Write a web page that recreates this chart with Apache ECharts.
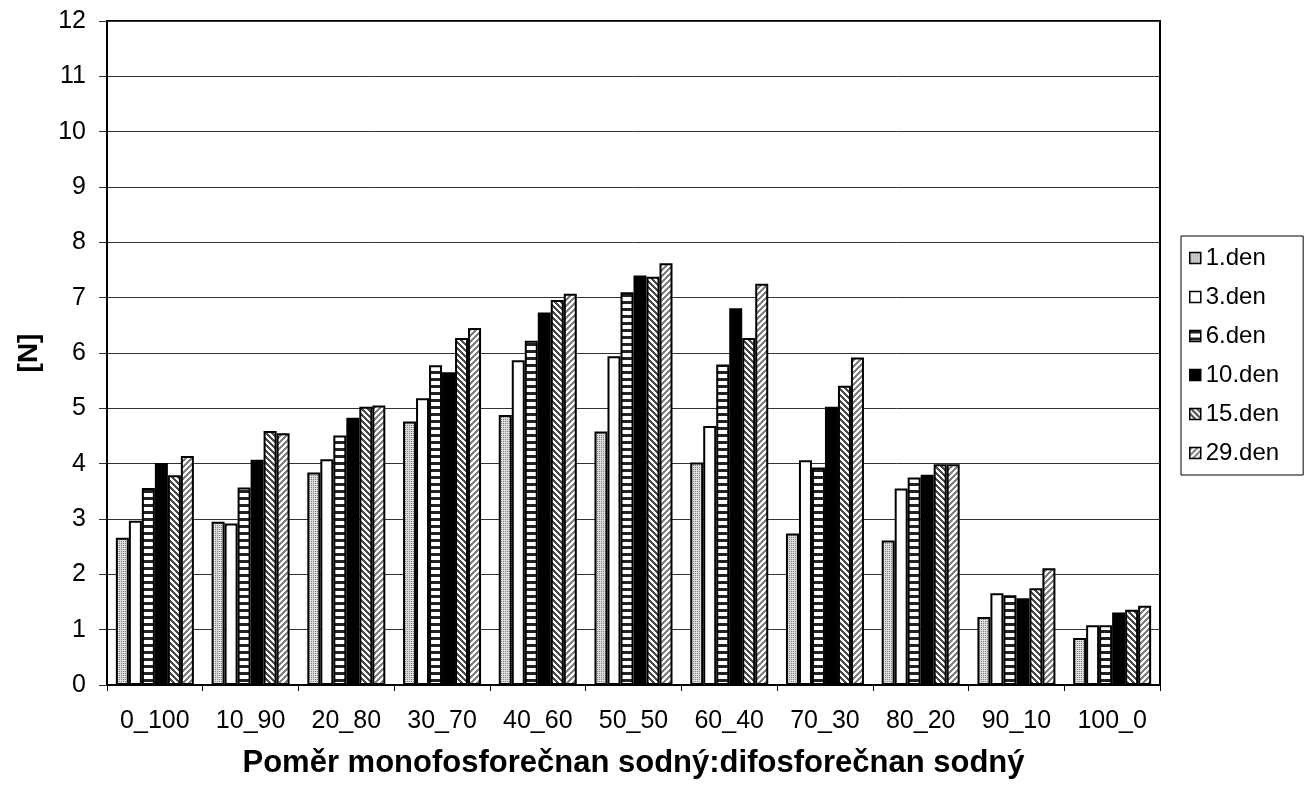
<!DOCTYPE html>
<html>
<head>
<meta charset="utf-8">
<script src="https://cdn.jsdelivr.net/npm/echarts@6/dist/echarts.min.js"></script>
<style>
html,body{margin:0;padding:0;background:#fff;}
#chart{width:1308px;height:789px;}
</style>
</head>
<body>
<div id="chart"></div>
<script>
// ---- data ----
const categories = ['0_100','10_90','20_80','30_70','40_60','50_50','60_40','70_30','80_20','90_10','100_0'];
const seriesNames = ['1.den','3.den','6.den','10.den','15.den','29.den'];
const den1  = [2.66, 2.95, 3.84, 4.76, 4.88, 4.58, 4.02, 2.74, 2.61, 1.23, 0.85];
const den3  = [2.97, 2.92, 4.08, 5.18, 5.87, 5.94, 4.68, 4.06, 3.55, 1.66, 1.08];
const den6  = [3.56, 3.57, 4.51, 5.78, 6.22, 7.10, 5.79, 3.93, 3.75, 1.62, 1.08];
const den10 = [4.01, 4.07, 4.83, 5.65, 6.73, 7.40, 6.81, 5.03, 3.80, 1.57, 1.31];
const den15 = [3.79, 4.59, 5.03, 6.27, 6.96, 7.38, 6.27, 5.41, 3.99, 1.75, 1.36];
const den29 = [4.14, 4.55, 5.05, 6.45, 7.07, 7.62, 7.25, 5.92, 3.99, 2.11, 1.43];
const yTicks = [0,1,2,3,4,5,6,7,8,9,10,11,12];
const xTitle = 'Poměr monofosforečnan sodný:difosforečnan sodný';
const yTitle = '[N]';

// ---- patterns ----
function tile(n, fn) {
  const c = document.createElement('canvas');
  c.width = n; c.height = n;
  const ctx = c.getContext('2d');
  const img = ctx.createImageData(n, n);
  for (let y = 0; y < n; y++) for (let x = 0; x < n; x++) {
    const v = fn(x, y);
    const i = (y * n + x) * 4;
    img.data[i] = v; img.data[i+1] = v; img.data[i+2] = v; img.data[i+3] = 255;
  }
  ctx.putImageData(img, 0, 0);
  return {image: c, repeat: 'repeat'};
}
const patDots = tile(4, (x, y) => ((x % 2 === 1 && y % 2 === 1) ? 0x80 : 0xdc));
const patHoriz = tile(7, (x, y) => (y < 3 ? 0x22 : 0xff));
const patBack = tile(6, (x, y) => (((x - y) % 6 + 6) % 6 < 3 ? 0x4a : 0xff));
const patFwd = tile(6, (x, y) => ((x + y) % 6 < 3 ? 0x80 : 0xff));
const fills = [patDots, '#ffffff', patHoriz, '#000000', patBack, patFwd];
const values = [den1, den3, den6, den10, den15, den29];

const FONT = 'Liberation Sans, Arial, sans-serif';
const chart = echarts.init(document.getElementById('chart'), null, {renderer: 'canvas'});
chart.setOption({
  animation: false,
  backgroundColor: '#fff',
  grid: {left: 107, right: 148, top: 21, bottom: 104, show: true, borderColor: '#000', borderWidth: 2},
  legend: {
    orient: 'vertical', left: 1181, top: 236,
    padding: [10, 24, 10, 8],
    borderColor: '#000', borderWidth: 1,
    itemWidth: 11, itemHeight: 11, itemGap: 15,
    icon: 'rect',
    itemStyle: {borderColor: '#000', borderWidth: 1.5},
    textStyle: {fontFamily: FONT, fontSize: 24, color: '#000', lineHeight: 24},
    data: seriesNames
  },
  xAxis: {
    type: 'category', data: categories,
    name: xTitle, nameLocation: 'middle', nameGap: 63,
    nameTextStyle: {fontFamily: FONT, fontSize: 31, fontWeight: 'bold', color: '#000'},
    axisLine: {lineStyle: {color: '#000', width: 2}},
    axisTick: {show: true, alignWithLabel: false, length: 6, lineStyle: {color: '#000', width: 1}},
    axisLabel: {fontFamily: FONT, fontSize: 25, color: '#000', margin: 24}
  },
  yAxis: {
    type: 'value', min: yTicks[0], max: yTicks[yTicks.length - 1], interval: 1,
    name: yTitle, nameLocation: 'middle', nameGap: 64, nameRotate: 90,
    nameTextStyle: {fontFamily: FONT, fontSize: 28, fontWeight: 'bold', color: '#000'},
    axisLine: {show: true, lineStyle: {color: '#000', width: 2}},
    axisTick: {show: true, length: 8, lineStyle: {color: '#333', width: 1}},
    axisLabel: {fontFamily: FONT, fontSize: 25, color: '#000', margin: 21},
    splitLine: {show: true, lineStyle: {color: '#333', width: 1}}
  },
  series: seriesNames.map((n, i) => ({
    name: n, type: 'bar', data: values[i],
    barWidth: 13, barGap: '0%',
    itemStyle: {color: fills[i], borderColor: '#000', borderWidth: 2}
  }))
});
</script>
</body>
</html>
